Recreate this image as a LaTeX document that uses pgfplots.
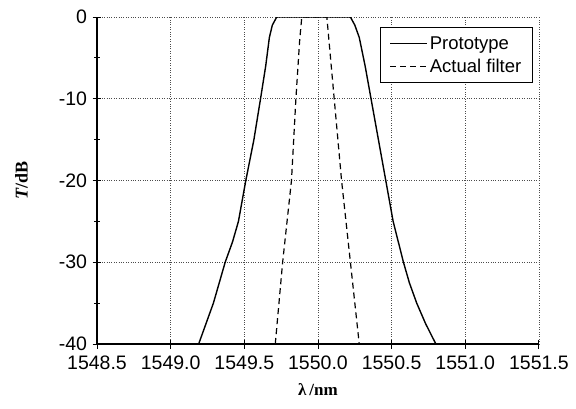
\documentclass[border=0pt]{standalone}
\usepackage{fontspec}
\setmainfont{Liberation Sans}
\newfontfamily\serif{Liberation Serif}
\usepackage{pgfplots}
\pgfplotsset{compat=1.18}

\begin{document}
\begin{tikzpicture}
\begin{axis}[
    at={(0,0)}, anchor=south west,
    scale only axis,
    width=442pt, height=327pt,
    xmin=1548.5, xmax=1551.5,
    ymin=-40, ymax=0,
    xtick={1548.5,1549,...,1551.5},
    ytick={-40,-30,...,0},
    minor x tick num=1,
    minor y tick num=1,
    axis x line*=bottom,
    axis y line*=left,
    axis line style={line width=1.3pt, -},
    tick align=center,
    major tick length=9pt,
    minor tick length=6pt,
    tick style={black, line width=0.9pt},
    xtick pos=bottom, ytick pos=left,
    grid=major,
    major grid style={dotted, black!70, line width=0.7pt},
    xticklabel style={/pgf/number format/fixed, /pgf/number format/fixed zerofill,
        /pgf/number format/precision=1, /pgf/number format/1000 sep={}, yshift=-4pt},
    ticklabel style={font=\fontsize{19.5}{21}\selectfont},
    yticklabel style={xshift=-2pt},
    /pgf/number format/assume math mode=true,
    xlabel={\serif\bfseries\fontsize{17}{19}\selectfont λ\,/nm},
    ylabel={\serif\bfseries\fontsize{18}{20}\selectfont \textit{T}/dB},
    xlabel style={yshift=-7pt},
    ylabel style={yshift=24pt},
    legend style={at={(0.986,0.969)}, anchor=north east, font=\fontsize{18.5}{20}\selectfont,
        draw=black, line width=0.9pt, inner xsep=9pt, inner ysep=7pt, row sep=4pt,
        legend cell align=left},
    legend image post style={line width=1pt},
    legend image code/.code={\draw[#1] (0pt,0pt) -- (37pt,0pt);},
]
\addplot[black, line width=1.4pt] coordinates {
(1549.19,-40) (1549.24,-37.5) (1549.29,-35) (1549.33,-32.5) (1549.37,-30) (1549.42,-27.5)
(1549.46,-25) (1549.51,-20) (1549.565,-15) (1549.61,-10) (1549.645,-6) (1549.67,-2.5)
(1549.69,-1) (1549.72,0) (1550.22,0) (1550.25,-1) (1550.28,-2.5) (1550.32,-6)
(1550.36,-10) (1550.41,-15) (1550.46,-20) (1550.51,-25) (1550.545,-27.5) (1550.58,-30)
(1550.62,-32.5) (1550.67,-35) (1550.73,-37.5) (1550.80,-40)
};
\addlegendentry{Prototype}
\addplot[black, line width=1.2pt, dash pattern=on 6pt off 4pt] coordinates {
(1549.71,-40) (1549.76,-30) (1549.82,-20) (1549.85,-10) (1549.875,-3) (1549.89,0)
(1550.06,0) (1550.075,-3) (1550.11,-10) (1550.16,-20) (1550.22,-30) (1550.28,-40)
};
\addlegendentry{Actual filter}
\end{axis}
\pgfresetboundingbox
\path (-97pt,-64pt) rectangle (479pt,344pt);
\end{tikzpicture}
\end{document}
